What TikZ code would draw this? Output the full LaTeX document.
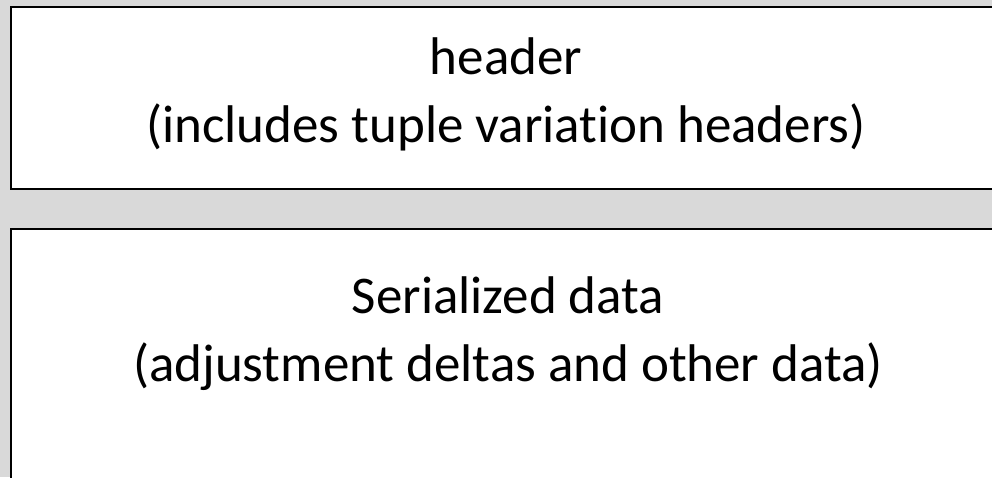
\documentclass[tikz,border=0pt]{standalone}
\usepackage{fontspec}
\setmainfont{Carlito}[Ligatures={NoCommon}]
\usetikzlibrary{calc}
\usetikzlibrary{positioning}

\definecolor{bggray}{HTML}{D9D9D9}

\tikzset{
  blk/.style={draw=black, line width=2pt, fill=white, inner sep=0pt, anchor=north west},
  blktxt/.style={font=\fontsize{53}{64}\selectfont, inner sep=0pt, anchor=base}
}

\begin{document}
\begin{tikzpicture}[x=1pt,y=1pt]
\useasboundingbox (0,0) rectangle (992,477);
\fill[bggray] (0,0) rectangle (992,477);
\clip (0,0) rectangle (992,477);

% both blocks run off the right edge, the lower one off the bottom too
\node[blk, minimum width=990, minimum height=182] (hdr) at (10,471) {};
\node[blk, minimum width=990, minimum height=270] (dat) at (10,249) {};

\node[blktxt] (hdrtitle) at ($ (hdr.north) +(0,-69) $) {header};
\node[blktxt] (hdrnote) at ($ (hdr.north) +(0,-137) $) {(includes tuple variation headers)};

\node[blktxt] (dattitle) at ($ (dat.north) +(2,-85) $) {Serialized data};
\node[blktxt] (datnote) at ($ (dat.north) +(2,-153) $) {(adjustment deltas and other data)};
\end{tikzpicture}
\end{document}
